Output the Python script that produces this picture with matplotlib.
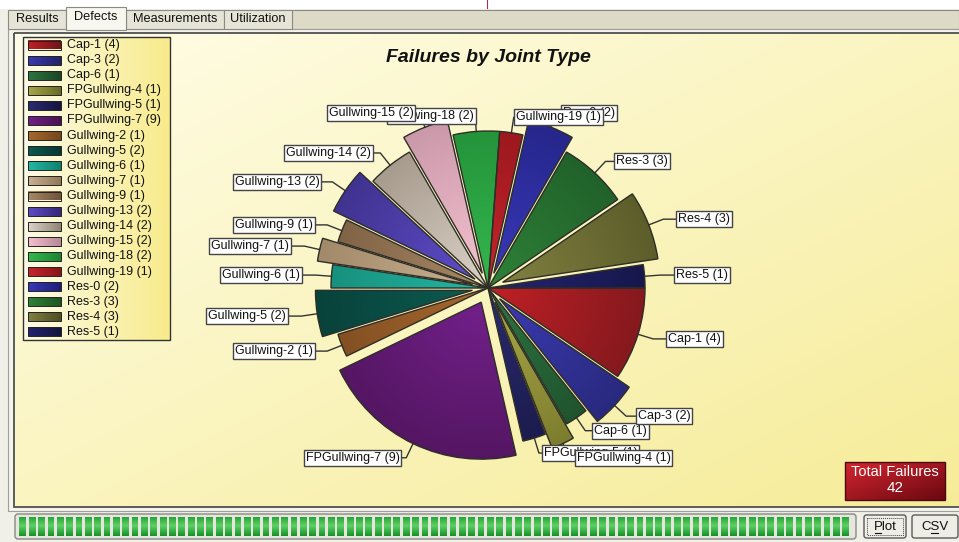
import numpy as np
import matplotlib
matplotlib.use('Agg')
import matplotlib.pyplot as plt
from matplotlib.patches import Rectangle, FancyBboxPatch
from matplotlib.colors import to_rgb

plt.rcParams['font.family'] = ['Liberation Sans', 'DejaVu Sans']

# ---------------- data ----------------
joint_types = ['Cap-1', 'Cap-3', 'Cap-6', 'FPGullwing-4', 'FPGullwing-5',
               'FPGullwing-7', 'Gullwing-2', 'Gullwing-5', 'Gullwing-6',
               'Gullwing-7', 'Gullwing-9', 'Gullwing-13', 'Gullwing-14',
               'Gullwing-15', 'Gullwing-18', 'Gullwing-19', 'Res-0', 'Res-3',
               'Res-4', 'Res-5']
failures = [4, 2, 1, 1, 1, 9, 1, 2, 1, 1, 1, 2, 2, 2, 2, 1, 2, 3, 3, 1]
tab_names = ['Results', 'Defects', 'Measurements', 'Utilization']
chart_title = 'Failures by Joint Type'

# ---------------- style ----------------
explode_flags = [0, 1, 0, 1, 0, 1, 0, 1, 0, 1, 0, 1, 0, 1, 0, 0, 1, 0, 1, 0]
light_colors = ['#c02026', '#3a3ab0', '#2e7440', '#a8a848', '#2a2a72',
                '#72208a', '#a8682e', '#0c5a50', '#24b8a4', '#c8b090',
                '#a88866', '#5e4cc8', '#dcd2c8', '#f4c0d0', '#34b84e',
                '#c8242c', '#3838b8', '#2e8238', '#808040', '#242470']
dark_colors = ['#6c161a', '#22226a', '#1a4626', '#6a6a24', '#161640',
               '#481252', '#74461e', '#063832', '#12806e', '#907858',
               '#705438', '#342878', '#908474', '#b88898', '#1e8432',
               '#881418', '#1e1e78', '#1c5424', '#4e4e22', '#12123e']

W, H = 959, 542
fig = plt.figure(figsize=(W / 100, H / 100), dpi=100)
ax0 = fig.add_axes([0, 0, 1, 1])
ax0.set_xlim(0, W)
ax0.set_ylim(H, 0)
ax0.axis('off')


def grad_img(ax, x0, y0, x1, y1, c0, c1, mode='diag', zorder=1, n=64, clip=None):
    c0 = np.array(to_rgb(c0))
    c1 = np.array(to_rgb(c1))
    i, j = np.mgrid[0:n, 0:n] / (n - 1)
    if mode == 'diag':
        t = (i + j) / 2
    elif mode == 'h':
        t = j
    else:
        t = i
    img = c0[None, None, :] * (1 - t[..., None]) + c1[None, None, :] * t[..., None]
    im = ax.imshow(img, extent=(x0, x1, y1, y0), origin='upper', aspect='auto',
                   interpolation='bilinear', zorder=zorder)
    if clip is not None:
        im.set_clip_path(clip)
    return im


# ---------- window chrome ----------
ax0.add_patch(Rectangle((0, 0), W, H, fc='#f0efe8', ec='none', zorder=0))
ax0.add_patch(Rectangle((0, 0), W, 9, fc='white', ec='none', zorder=0.2))
ax0.plot([487, 487], [0, 8], color='#a03060', lw=0.8, zorder=0.3)
ax0.add_patch(Rectangle((292, 10), W - 292, 19, fc='#dddbc8', ec='#8a8a80', lw=0.8, zorder=0.3))

tab_x = [(8, 66), (66, 126), (126, 224), (224, 292)]
for k, (name, (xa, xb)) in enumerate(zip(tab_names, tab_x)):
    sel = (name == 'Defects')
    y_top = 7 if sel else 10
    y_bot = 30 if sel else 29
    ax0.add_patch(Rectangle((xa, y_top), xb - xa, y_bot - y_top,
                            fc='#f7f6ef' if sel else '#e6e4d6', ec='#8a8a80',
                            lw=0.8, zorder=0.5 if sel else 0.4))
    ax0.text((xa + xb) / 2, 17.5 if sel else 19.5, name, ha='center', va='center',
             fontsize=9.2, color='#111111', zorder=1)

# outer frame
ax0.add_patch(Rectangle((8, 29), W, 482, fc='#f3f2ec', ec='#a0a098', lw=0.8, zorder=0.35))
# main panel with yellow gradient
grad_img(ax0, 14, 33, W + 5, 507, '#fffde8', '#f6ec98', 'diag', zorder=0.6)
ax0.add_patch(Rectangle((14, 33), W, 474, fc='none', ec='#505050', lw=1.3, zorder=0.7))

# title
ax0.text(488, 57, chart_title, ha='center', va='center', fontsize=14,
         fontweight='bold', fontstyle='italic', color='#111111', zorder=3)

# ---------- legend ----------
grad_img(ax0, 23, 37, 170, 340, '#fdfbe6', '#f8eb8c', 'h', zorder=2)
ax0.add_patch(Rectangle((23, 37), 147, 303, fc='none', ec='#333333', lw=1.0, zorder=2.1))
for i, (name, v) in enumerate(zip(joint_types, failures)):
    yc = 45 + i * 15.1
    grad_img(ax0, 28, yc - 4.5, 61, yc + 4.5, light_colors[i], dark_colors[i], 'h', zorder=2.2)
    ax0.add_patch(Rectangle((28, yc - 4.5), 33, 9, fc='none', ec='#222222', lw=0.7, zorder=2.3))
    ax0.text(67, yc, f'{name} ({v})', ha='left', va='center', fontsize=9.0,
             color='#111111', zorder=2.4)

# ---------- total box ----------
total = sum(failures)
grad_img(ax0, 845, 462, 945, 500, '#d42630', '#6a0810', 'diag', zorder=2)
ax0.add_patch(Rectangle((845, 462), 100, 38, fc='none', ec='#4a0a0a', lw=1.0, zorder=2.1))
ax0.text(895, 471.5, 'Total Failures', ha='center', va='center', fontsize=10.5,
         color='white', zorder=2.2)
ax0.text(895, 488.5, str(total), ha='center', va='center', fontsize=11,
         color='white', zorder=2.2)

# ---------- progress bar ----------
ax0.add_patch(FancyBboxPatch((15, 514), 841, 25, boxstyle='round,pad=0,rounding_size=3',
                             fc='#e6e6de', ec='#8a8a84', lw=1.0, zorder=1))
bx0, bx1, by0, by1 = 19, 852, 517, 536
ncol = bx1 - bx0
rows = by1 - by0
vt = np.linspace(0, 1, rows)[:, None]
top_c = np.array(to_rgb('#2aa83a'))
mid_c = np.array(to_rgb('#5ed066'))
bot_c = np.array(to_rgb('#169428'))
prof = np.where(vt < 0.45, top_c + (mid_c - top_c) * (vt / 0.45),
                mid_c + (bot_c - mid_c) * ((vt - 0.45) / 0.55))
bar = np.ones((rows, ncol, 4))
bar[..., :3] = prof[:, None, :] * np.ones((1, ncol, 1))
colpos = np.arange(ncol) % 9.35
bar[..., 3] = np.where(colpos < 6.8, 1.0, 0.0)[None, :]
ax0.imshow(bar, extent=(bx0, bx1, by1, by0), origin='upper', aspect='auto',
           interpolation='nearest', zorder=1.5)

# buttons
for (xa, xb, label, ul) in [(864, 906, 'Plot', (874.5, 880.5)), (912, 958, 'CSV', (931, 938))]:
    ax0.add_patch(FancyBboxPatch((xa, 515), xb - xa, 23, boxstyle='round,pad=0,rounding_size=2.5',
                                 fc='#eeede6', ec='#5a5a5a', lw=1.0, zorder=1))
    ax0.text((xa + xb) / 2, 526.5, label, ha='center', va='center', fontsize=9.5,
             color='#111111', zorder=2)
    ax0.plot(list(ul), [533, 533], color='#111111', lw=0.8, zorder=2)
ax0.add_patch(Rectangle((867, 518), 36, 17, fc='none', ec='#444444', lw=0.7,
                        ls=(0, (1, 1)), zorder=2))

ax0.set_xlim(0, W)
ax0.set_ylim(H, 0)

# ---------- pie ----------
cx, cy, R = 488, 288, 157
lim = 1.6
axp = fig.add_axes([(cx - lim * R) / W, (H - cy - lim * R) / H, 2 * lim * R / W, 2 * lim * R / H])
axp.set_zorder(5)
axp.patch.set_alpha(0)

labels = [f'{n} ({v})' for n, v in zip(joint_types, failures)]
wedges, texts = axp.pie(
    failures, explode=[0.1 * e for e in explode_flags], labels=labels,
    startangle=0, counterclock=False, labeldistance=1.2,
    wedgeprops=dict(edgecolor='#2e2e26', linewidth=1.0),
    textprops=dict(fontsize=9.0, color='#111111',
                   bbox=dict(boxstyle='square,pad=0.16', fc='white', ec='#444444', lw=1.0)))

nW = len(wedges)
for i, w in enumerate(wedges):
    t1, t2 = np.deg2rad(w.theta1), np.deg2rad(w.theta2)
    ccx, ccy = w.center
    angs = np.linspace(t1, t2, 60)
    xs = np.concatenate([[ccx], ccx + w.r * np.cos(angs)])
    ys = np.concatenate([[ccy], ccy + w.r * np.sin(angs)])
    x0, x1, y0, y1 = xs.min(), xs.max(), ys.min(), ys.max()
    n = 80
    gx, gy = np.meshgrid(np.linspace(x0, x1, n), np.linspace(y1, y0, n))
    t = 0.7 * np.clip(np.hypot(gx - ccx, gy - ccy) / w.r, 0, 1)[..., None]
    c0 = np.array(to_rgb(light_colors[i]))
    c1 = np.array(to_rgb(dark_colors[i]))
    img = c0 * (1 - t) + c1 * t
    im = axp.imshow(img, extent=(x0, x1, y0, y1), origin='upper', aspect='auto',
                    interpolation='bilinear', zorder=0.5)
    im.set_clip_path(w)
    w.set_facecolor('none')
    w.set_zorder(1)
    tm = (t1 + t2) / 2
    lx = ccx + 1.2 * np.cos(tm)
    ly = ccy + 1.1 * np.sin(tm)
    texts[i].set_position((lx, ly))
    axp.plot([ccx + np.cos(tm), ccx + 1.1 * np.cos(tm), lx],
             [ccy + np.sin(tm), ly, ly],
             color='#333333', lw=1.0, zorder=0.8)
    texts[i].set_zorder(10 + (nW - i) * 0.01)

axp.set_xlim(-lim, lim)
axp.set_ylim(-lim, lim)
axp.set_aspect('auto')
axp.axis('off')

fig.savefig('out.png', dpi=100)
